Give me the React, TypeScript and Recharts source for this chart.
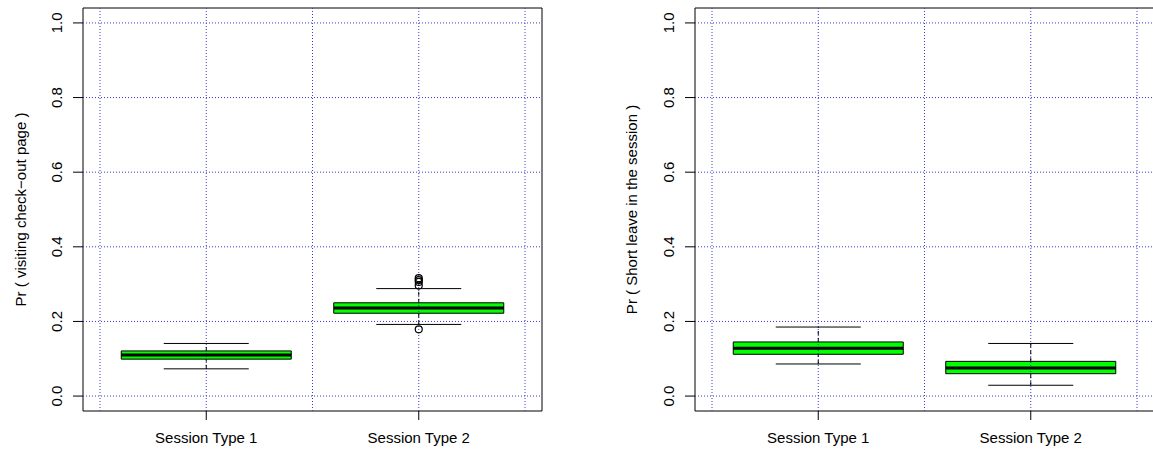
import React from "react";
import {
  ComposedChart,
  XAxis,
  YAxis,
  Scatter,
  ReferenceLine,
  ReferenceArea,
} from "recharts";

// ---- data ----
const categories = ["Session Type 1", "Session Type 2"];
const categoryX = [1, 2];
const yTicks = [0, 0.2, 0.4, 0.6, 0.8, 1.0];
const yTickLabels = ["0.0", "0.2", "0.4", "0.6", "0.8", "1.0"];
const gridX = [0.5, 1, 1.5, 2, 2.5];

// Panel 1: Pr ( visiting check-out page )
const checkoutLow = [0.073, 0.192];
const checkoutQ1 = [0.099, 0.222];
const checkoutMedian = [0.11, 0.236];
const checkoutQ3 = [0.121, 0.25];
const checkoutHigh = [0.141, 0.288];
const checkoutOutliers: number[][] = [[], [0.316, 0.311, 0.306, 0.296, 0.179]];

// Panel 2: Pr ( Short leave in the session )
const leaveLow = [0.086, 0.029];
const leaveQ1 = [0.112, 0.06];
const leaveMedian = [0.128, 0.075];
const leaveQ3 = [0.145, 0.093];
const leaveHigh = [0.185, 0.141];
const leaveOutliers: number[][] = [[], []];

const FONT = "'Liberation Sans', Arial, Helvetica, sans-serif";
const GRID = "#3a3ad0";
const BOX_HALF = 0.4;
const CAP_HALF = 0.2;
const X_DOMAIN: [number, number] = [0.42, 2.58];
const Y_DOMAIN: [number, number] = [-0.04, 1.04];

const YTick = (props: any) => {
  const { x, y, payload } = props;
  const idx = yTicks.indexOf(payload.value);
  const label = idx >= 0 ? yTickLabels[idx] : String(payload.value);
  return (
    <text
      x={x}
      y={y}
      transform={`rotate(-90, ${x}, ${y})`}
      textAnchor="middle"
      dominantBaseline="central"
      fontSize={15}
      fontFamily={FONT}
      fill="#000"
    >
      {label}
    </text>
  );
};

const XTick = (props: any) => {
  const { x, y, payload } = props;
  const idx = categoryX.indexOf(payload.value);
  return (
    <text
      x={x}
      y={y}
      dy="0.71em"
      textAnchor="middle"
      fontSize={15}
      fontFamily={FONT}
      fill="#000"
    >
      {idx >= 0 ? categories[idx] : ""}
    </text>
  );
};

type PanelProps = {
  left: number;
  width: number;
  marginRight: number;
  yAxisWidth: number;
  title: string;
  titleX: number;
  low: number[];
  q1: number[];
  median: number[];
  q3: number[];
  high: number[];
  outliers: number[][];
};

const Panel = (p: PanelProps) => {
  const outlierData = p.outliers.flatMap((vals, i) =>
    vals.map((v) => ({ x: categoryX[i], y: v }))
  );
  const plotTop = 8;
  const plotBottom = 452 - 41;
  return (
    <div style={{ position: "absolute", left: p.left, top: 0 }}>
      <ComposedChart
        width={p.width}
        height={452}
        margin={{ top: 8, right: p.marginRight, bottom: 0, left: 0 }}
        data={[]}
      >
        <XAxis
          type="number"
          dataKey="x"
          domain={X_DOMAIN}
          allowDataOverflow
          ticks={categoryX}
          tick={<XTick />}
          tickSize={9}
          tickMargin={12}
          tickLine={{ stroke: "#000" }}
          axisLine={false}
          height={41}
          interval={0}
        />
        <YAxis
          type="number"
          dataKey="y"
          domain={Y_DOMAIN}
          allowDataOverflow
          ticks={yTicks}
          tick={<YTick />}
          tickSize={10}
          tickMargin={16}
          tickLine={{ stroke: "#000" }}
          axisLine={false}
          width={p.yAxisWidth}
          interval={0}
          label={{
            content: () => (
              <text
                x={p.titleX}
                y={(plotTop + plotBottom) / 2}
                transform={`rotate(-90, ${p.titleX}, ${(plotTop + plotBottom) / 2})`}
                textAnchor="middle"
                dominantBaseline="central"
                fontSize={15}
                fontFamily={FONT}
                fill="#000"
              >
                {p.title}
              </text>
            ),
          }}
        />
        {yTicks.map((v) => (
          <ReferenceLine
            key={"gy" + v}
            y={v}
            stroke={GRID}
            strokeDasharray="1 2"
            strokeWidth={1}
          />
        ))}
        {gridX.map((v) => (
          <ReferenceLine
            key={"gx" + v}
            x={v}
            stroke={GRID}
            strokeDasharray="1 2"
            strokeWidth={1}
          />
        ))}
        {categoryX.map((cx, i) => (
          <ReferenceLine
            key={"wu" + i}
            segment={[
              { x: cx, y: p.q3[i] },
              { x: cx, y: p.high[i] },
            ]}
            stroke="#000"
            strokeDasharray="4 3"
            strokeWidth={1}
          />
        ))}
        {categoryX.map((cx, i) => (
          <ReferenceLine
            key={"wl" + i}
            segment={[
              { x: cx, y: p.low[i] },
              { x: cx, y: p.q1[i] },
            ]}
            stroke="#000"
            strokeDasharray="4 3"
            strokeWidth={1}
          />
        ))}
        {categoryX.map((cx, i) => (
          <ReferenceLine
            key={"ch" + i}
            segment={[
              { x: cx - CAP_HALF, y: p.high[i] },
              { x: cx + CAP_HALF, y: p.high[i] },
            ]}
            stroke="#000"
            strokeWidth={1}
          />
        ))}
        {categoryX.map((cx, i) => (
          <ReferenceLine
            key={"cl" + i}
            segment={[
              { x: cx - CAP_HALF, y: p.low[i] },
              { x: cx + CAP_HALF, y: p.low[i] },
            ]}
            stroke="#000"
            strokeWidth={1}
          />
        ))}
        {categoryX.map((cx, i) => (
          <ReferenceArea
            key={"box" + i}
            x1={cx - BOX_HALF}
            x2={cx + BOX_HALF}
            y1={p.q1[i]}
            y2={p.q3[i]}
            fill="#00ff00"
            fillOpacity={1}
            stroke="#000"
            strokeWidth={1}
          />
        ))}
        {categoryX.map((cx, i) => (
          <ReferenceLine
            key={"med" + i}
            segment={[
              { x: cx - BOX_HALF, y: p.median[i] },
              { x: cx + BOX_HALF, y: p.median[i] },
            ]}
            stroke="#000"
            strokeWidth={3}
          />
        ))}
        <ReferenceArea
          x1={X_DOMAIN[0]}
          x2={X_DOMAIN[1]}
          y1={Y_DOMAIN[0]}
          y2={Y_DOMAIN[1]}
          fill="none"
          stroke="#000"
          strokeWidth={1}
          ifOverflow="visible"
        />
        <Scatter
          data={outlierData}
          dataKey="y"
          isAnimationActive={false}
          shape={(s: any) => (
            <circle
              cx={s.cx}
              cy={s.cy}
              r={3.5}
              fill="none"
              stroke="#000"
              strokeWidth={1.2}
            />
          )}
        />
      </ComposedChart>
    </div>
  );
};

export default function App() {
  return (
    <div
      style={{
        position: "absolute",
        left: 0,
        top: 0,
        width: 1153,
        height: 452,
        overflow: "hidden",
        background: "#fff",
      }}
    >
      <Panel
        left={0}
        width={576}
        marginRight={34}
        yAxisWidth={83}
        title="Pr ( visiting check−out page )"
        titleX={20}
        low={checkoutLow}
        q1={checkoutQ1}
        median={checkoutMedian}
        q3={checkoutQ3}
        high={checkoutHigh}
        outliers={checkoutOutliers}
      />
      <Panel
        left={576}
        width={580}
        marginRight={2}
        yAxisWidth={119}
        title="Pr ( Short leave in the session )"
        titleX={55}
        low={leaveLow}
        q1={leaveQ1}
        median={leaveMedian}
        q3={leaveQ3}
        high={leaveHigh}
        outliers={leaveOutliers}
      />
    </div>
  );
}
